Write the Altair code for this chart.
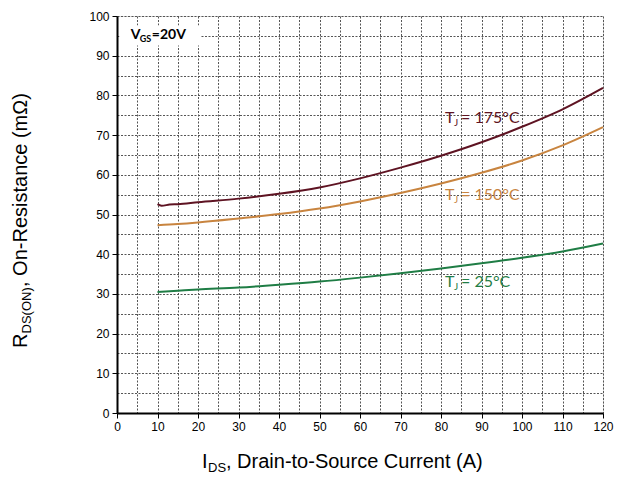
import altair as alt
import pandas as pd

# ---- data ----
ids_175 = [10, 11, 13, 15, 20, 30, 40, 50, 60, 70, 80, 90, 100, 110, 120]
r_175 = [52.6, 52.2, 52.5, 52.6, 53.1, 54.0, 55.2, 56.8, 59.1, 61.8, 64.8, 68.2, 72.1, 76.5, 81.9]

ids_150 = [10, 15, 20, 30, 40, 50, 60, 70, 80, 90, 100, 110, 120]
r_150 = [47.3, 47.6, 48.0, 49.0, 50.1, 51.5, 53.3, 55.4, 57.8, 60.5, 63.6, 67.4, 72.0]

ids_25 = [10, 15, 20, 30, 40, 50, 60, 70, 80, 90, 100, 110, 120]
r_25 = [30.5, 30.8, 31.1, 31.6, 32.3, 33.1, 34.1, 35.2, 36.4, 37.7, 39.1, 40.7, 42.7]

series_names = ["175", "150", "25"]
series_colors = ["#5e1322", "#c8843f", "#1f7d45"]
label_colors = ["#7a1c24", "#c47e3c", "#2a8a4e"]
label_x = [81, 81, 81]
label_y = [74.3, 54.9, 33.1]

x_ticks = list(range(0, 121, 5))
y_ticks = list(range(0, 101, 5))

rows = []
for name, xs, ys in [("175", ids_175, r_175), ("150", ids_150, r_150), ("25", ids_25, r_25)]:
    for a, b in zip(xs, ys):
        rows.append({"series": name, "I": a, "R": b})
df = pd.DataFrame(rows)

W, H = 486, 397
FONT = "Liberation Sans"
LFONT = "Lato"

cond_tick = {"condition": {"test": "datum.value % 10 === 0", "value": 1}, "value": 0}


def make_axis(vals):
    return alt.Axis(values=vals, tickCount=len(vals) + 5,
                    labelExpr="datum.value % 10 === 0 ? datum.label : ''",
                    title=None, grid=True, gridDash=[2, 1.5], gridColor="#555555", gridWidth=1,
                    domainColor="black", domainWidth=2, tickColor="black", tickWidth=1,
                    tickSize=5, tickOpacity=cond_tick, labelFont=FONT, labelFontSize=12,
                    labelColor="black", labelPadding=3, labelFlush=False, labelOverlap=False)


xs_scale = alt.Scale(domain=[0, 120], nice=False, zero=True)
ys_scale = alt.Scale(domain=[0, 100], nice=False, zero=True)


def X(field):
    return alt.X(field, scale=xs_scale, axis=make_axis(x_ticks))


def Y(field):
    return alt.Y(field, scale=ys_scale, axis=make_axis(y_ticks))


lines = alt.Chart(df).mark_line(strokeWidth=2, interpolate="monotone").encode(
    x=X("I:Q"), y=Y("R:Q"),
    color=alt.Color("series:N", scale=alt.Scale(domain=series_names, range=series_colors), legend=None),
    detail="series:N",
)

# curve labels: "T", subscript "J", "= xxx°C"
lab_rows = []
for n, lx, ly in zip(series_names, label_x, label_y):
    lab_rows.append({"series": n, "I": lx, "R": ly, "main": "T", "sub": "J", "rest": "= " + n + "°C"})
lab_df = pd.DataFrame(lab_rows)
col_scale = alt.Scale(domain=series_names, range=label_colors)

lab_T = alt.Chart(lab_df).mark_text(align="left", baseline="alphabetic", font=LFONT, fontSize=16, dy=5).encode(
    x=X("I:Q"), y=Y("R:Q"), text="main:N", color=alt.Color("series:N", scale=col_scale, legend=None))
lab_J = alt.Chart(lab_df).mark_text(align="left", baseline="alphabetic", font=LFONT, fontSize=10, dx=9, dy=8).encode(
    x=X("I:Q"), y=Y("R:Q"), text="sub:N", color=alt.Color("series:N", scale=col_scale, legend=None))
lab_R = alt.Chart(lab_df).mark_text(align="left", baseline="alphabetic", font=LFONT, fontSize=16, dx=16, dy=5).encode(
    x=X("I:Q"), y=Y("R:Q"), text="rest:N", color=alt.Color("series:N", scale=col_scale, legend=None))

# V_GS annotation with white box
box_df = pd.DataFrame({"x1": [0.6], "x2": [20.5], "y1": [92.6], "y2": [97.6]})
box = alt.Chart(box_df).mark_rect(color="white").encode(x=X("x1:Q"), x2="x2:Q", y=Y("y1:Q"), y2="y2:Q")
vgs_df = pd.DataFrame({"I": [3.4], "R": [95.4], "a": ["V"], "b": ["GS"], "c": ["=20V"]})
vgs_a = alt.Chart(vgs_df).mark_text(align="left", baseline="alphabetic", font=LFONT, fontWeight="bold",
                                    fontSize=14, dy=5, color="black").encode(x=X("I:Q"), y=Y("R:Q"), text="a:N")
vgs_b = alt.Chart(vgs_df).mark_text(align="left", baseline="alphabetic", font=LFONT, fontWeight="bold",
                                    fontSize=9, dx=9, dy=8, color="black").encode(x=X("I:Q"), y=Y("R:Q"), text="b:N")
vgs_c = alt.Chart(vgs_df).mark_text(align="left", baseline="alphabetic", font=LFONT, fontWeight="bold",
                                    fontSize=14, dx=21, dy=5, color="black").encode(x=X("I:Q"), y=Y("R:Q"), text="c:N")

# axis titles (with subscripts) as text pieces
one = pd.DataFrame({"k": [0]})


def piece(txt, px, py, size, dx=0, dy=0, angle=0):
    kw = dict(align="left", baseline="alphabetic", font=FONT, fontSize=size, dx=dx, dy=dy,
              color="black", text=txt)
    if angle:
        kw["angle"] = angle
    return alt.Chart(one).mark_text(**kw).encode(x=alt.value(px), y=alt.value(py))


xt = [
    piece("I", 85, 452, 20),
    piece("DS", 85, 452, 13, dx=6, dy=4),
    piece(", Drain-to-Source Current (A)", 85, 452, 20, dx=24),
]
yt = [
    piece("R", -90, 332, 20, angle=270),
    piece("DS(ON)", -90, 332, 13, dx=14.5, dy=4, angle=270),
    piece(", On-Resistance (mΩ)", -90, 332, 20, dx=61, angle=270),
]

chart = alt.layer(lines, box, vgs_a, vgs_b, vgs_c, lab_T, lab_J, lab_R, *xt, *yt).properties(
    width=W, height=H,
    autosize=alt.AutoSizeParams(type="none"),
    padding={"left": 109, "top": 8, "right": 17, "bottom": 65},
).configure_view(stroke=None).configure(background="white")

chart.save("out.html", embed_options={"renderer": "svg", "actions": False})
